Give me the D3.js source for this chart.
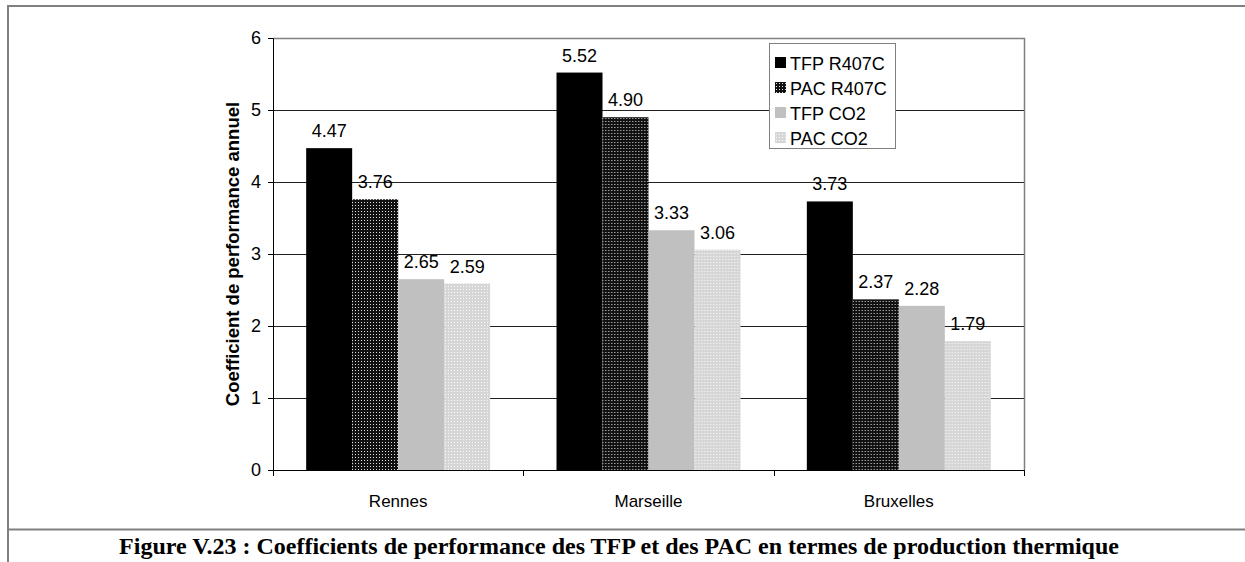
<!DOCTYPE html>
<html>
<head>
<meta charset="utf-8">
<script src="https://cdn.jsdelivr.net/npm/d3@7"></script>
<style>
  html, body { margin: 0; padding: 0; background: #fff; }
  svg { display: block; }
</style>
</head>
<body>
<svg id="chart" width="1245" height="562"></svg>
<script>
// Data
const categories = ["Rennes", "Marseille", "Bruxelles"];
const seriesNames = ["TFP R407C", "PAC R407C", "TFP CO2", "PAC CO2"];
const tfpR407C = [4.47, 5.52, 3.73];
const pacR407C = [3.76, 4.90, 2.37];
const tfpCO2 = [2.65, 3.33, 2.28];
const pacCO2 = [2.59, 3.06, 1.79];
const yTicks = [0, 1, 2, 3, 4, 5, 6];
const yTitle = "Coefficient de performance annuel";
const caption = "Figure V.23 : Coefficients de performance des TFP et des PAC en termes de production thermique";

const seriesValues = [tfpR407C, pacR407C, tfpCO2, pacCO2];

const svg = d3.select("#chart");
const W = 1245, H = 562;

// Patterns for the hatched series
const defs = svg.append("defs");
const darkPat = defs.append("pattern").attr("id", "patDark")
  .attr("patternUnits", "userSpaceOnUse").attr("width", 3).attr("height", 3);
darkPat.append("rect").attr("width", 3).attr("height", 3).attr("fill", "#111");
darkPat.append("rect").attr("x", 1).attr("y", 1).attr("width", 1).attr("height", 1).attr("fill", "#ddd");
const lightPat = defs.append("pattern").attr("id", "patLight")
  .attr("patternUnits", "userSpaceOnUse").attr("width", 3).attr("height", 3);
lightPat.append("rect").attr("width", 3).attr("height", 3).attr("fill", "#d6d6d6");
lightPat.append("rect").attr("x", 1).attr("y", 1).attr("width", 1).attr("height", 1).attr("fill", "#fafafa");

const fills = ["#000000", "url(#patDark)", "#c0c0c0", "url(#patLight)"];

// Page frame around the figure
const frame = svg.append("g").attr("stroke", "#808080").attr("stroke-width", 2).attr("fill", "none");
frame.append("line").attr("x1", 7).attr("x2", W).attr("y1", 6).attr("y2", 6);
frame.append("line").attr("x1", 8).attr("x2", 8).attr("y1", 5).attr("y2", H);
frame.append("line").attr("x1", 7).attr("x2", W).attr("y1", 529.5).attr("y2", 529.5);

// Plot area
const plot = { left: 273, right: 1024, top: 38, bottom: 470 };

const y = d3.scaleLinear().domain([0, 6]).range([plot.bottom, plot.top]);
const x0 = d3.scaleBand().domain(categories).range([plot.left, plot.right]).padding(0);
const barW = 46;
const groupPad = (x0.bandwidth() - barW * seriesNames.length) / 2;
const x1 = d3.scaleBand().domain(seriesNames)
  .range([groupPad, groupPad + barW * seriesNames.length]).padding(0);

const font = "'Liberation Sans', Arial, sans-serif";
const fs = 18;

// Gridlines
svg.append("g")
  .selectAll("line").data(yTicks.filter(t => t > 0 && t < 6)).join("line")
  .attr("x1", plot.left).attr("x2", plot.right)
  .attr("y1", d => Math.round(y(d)) + 0.5).attr("y2", d => Math.round(y(d)) + 0.5)
  .attr("stroke", "#222").attr("stroke-width", 1);

// Plot area border (top and right)
svg.append("path")
  .attr("d", `M${plot.left},${plot.top + 0.5}H${plot.right + 0.5}V${plot.bottom}`)
  .attr("fill", "none").attr("stroke", "#808080").attr("stroke-width", 1.5);

// Bars
const groups = svg.append("g").selectAll("g").data(categories).join("g")
  .attr("transform", d => `translate(${x0(d)},0)`);

groups.each(function(cat, ci) {
  const g = d3.select(this);
  seriesNames.forEach((s, si) => {
    const v = seriesValues[si][ci];
    g.append("rect")
      .attr("x", x1(s)).attr("width", x1.bandwidth())
      .attr("y", y(v)).attr("height", y(0) - y(v))
      .attr("fill", fills[si]);
    g.append("text")
      .attr("x", x1(s) + x1.bandwidth() / 2)
      .attr("y", y(v) - 11)
      .attr("text-anchor", "middle")
      .attr("font-family", font).attr("font-size", fs)
      .attr("fill", "#000")
      .text(v.toFixed(2));
  });
});

// Y axis
const yAxis = d3.axisLeft(y).tickValues(yTicks).tickSize(5).tickPadding(7).tickFormat(d3.format("d"));
const yG = svg.append("g").attr("transform", `translate(${plot.left},0)`).call(yAxis);
yG.select(".domain").attr("stroke", "#000");
yG.selectAll(".tick line").attr("stroke", "#000");
yG.selectAll(".tick text").attr("font-family", font).attr("font-size", fs).attr("fill", "#000");

// X axis (ticks at category boundaries)
const xAxisG = svg.append("g").attr("transform", `translate(0,${plot.bottom})`);
xAxisG.append("line").attr("x1", plot.left).attr("x2", plot.right)
  .attr("y1", 0.5).attr("y2", 0.5).attr("stroke", "#000");
const boundaries = categories.map(c => x0(c)).concat([x0(categories[categories.length - 1]) + x0.bandwidth()]);
xAxisG.selectAll("line.tk").data(boundaries).join("line").attr("class", "tk")
  .attr("x1", d => Math.round(d) + 0.5).attr("x2", d => Math.round(d) + 0.5)
  .attr("y1", 0).attr("y2", 6).attr("stroke", "#000");
xAxisG.selectAll("text").data(categories).join("text")
  .attr("x", d => x0(d) + x0.bandwidth() / 2)
  .attr("y", 37)
  .attr("text-anchor", "middle")
  .attr("font-family", font).attr("font-size", 17).attr("fill", "#000")
  .text(d => d);

// Y axis title
svg.append("text")
  .attr("transform", `translate(239,${(plot.top + plot.bottom) / 2}) rotate(-90)`)
  .attr("text-anchor", "middle")
  .attr("font-family", font).attr("font-size", 18.5).attr("font-weight", "bold")
  .text(yTitle);

// Legend
const legend = svg.append("g").attr("transform", "translate(769,43)");
legend.append("rect").attr("x", 0.5).attr("y", 0.5).attr("width", 126).attr("height", 105)
  .attr("fill", "#fff").attr("stroke", "#808080").attr("stroke-width", 1);
seriesNames.forEach((s, i) => {
  const ly = 20 + i * 25;
  legend.append("rect").attr("x", 6).attr("y", ly - 6).attr("width", 11).attr("height", 11)
    .attr("fill", fills[i]);
  legend.append("text").attr("x", 21).attr("y", ly + 6.5)
    .attr("font-family", font).attr("font-size", fs).attr("fill", "#000")
    .text(s);
});

// Caption
svg.append("text")
  .attr("x", 619).attr("y", 554)
  .attr("text-anchor", "middle")
  .attr("font-family", "'Liberation Serif', 'Times New Roman', serif")
  .attr("font-size", 24).attr("font-weight", "bold").attr("fill", "#000")
  .text(caption);
</script>
</body>
</html>
